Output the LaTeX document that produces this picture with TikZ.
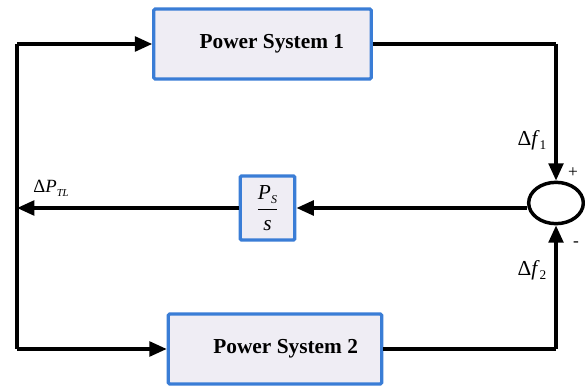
\documentclass[tikz,border=0pt]{standalone}
\usepackage{xcolor}
\usepackage{tikz}
\usepackage{fontspec}
\setmainfont{Liberation Serif}
\usetikzlibrary{arrows.meta,shapes.geometric}
\definecolor{boxblue}{RGB}{58,125,214}
\definecolor{boxfill}{RGB}{239,237,244}
\tikzset{
  sysbox/.style={draw=boxblue,fill=boxfill,line width=2.4pt,rounded corners=1pt,inner sep=0pt},
  flow/.style={line width=2.6pt,-{Triangle[length=13pt,width=11pt]}},
  wire/.style={line width=2.6pt}
}
\newcommand{\sublow}[1]{\raisebox{-0.45ex}{\fontsize{10}{12}\selectfont #1}}

\begin{document}
\begin{tikzpicture}[x=0.75pt,y=-0.75pt]
                  \useasboundingbox (0,0) rectangle (585,388);
                  \node[sysbox,minimum width=163pt,minimum height=52.5pt] (ps1) at (262.5,44) {\fontsize{16}{18}\selectfont\bfseries\hspace*{14pt}Power System 1};
                  \node[sysbox,minimum width=160pt,minimum height=52.5pt] (ps2) at (275,349) {\fontsize{16}{18}\selectfont\bfseries\hspace*{16pt}Power System 2};
                  \node[sysbox,minimum width=41pt,minimum height=48pt] (gain) at (267.5,208) {\fontsize{16}{18}\selectfont$\displaystyle\frac{\mbox{\itshape P\sublow{\fontsize{9}{10}\selectfont S}}\rule[-5pt]{0pt}{5pt}}{\rule{0pt}{14pt}\mbox{\itshape s}}$};
                  \node[draw,line width=2.6pt,ellipse,minimum width=41pt,minimum height=31pt,inner sep=0pt] (sum) at (556,203) {};
                  \coordinate (tl) at (17,44);
                  \coordinate (bl) at (17,349);
                  \coordinate (ml) at (17,208);
                  \coordinate (tr) at (556,44);
                  \coordinate (br) at (556,349);
                  \draw[wire] (bl) -- (tl);
                  \draw[flow] (tl) -- (ps1.west);
                  \draw[flow] (bl) -- (ps2.west);
                  \draw[wire] (ps1.east) -- (tr);
                  \draw[flow] (tr) -- (sum.north);
                  \draw[wire] (ps2.east) -- (br);
                  \draw[flow] (br) -- (sum.south);
                  \draw[flow] (sum.west |- gain) -- (gain.east);
                  \draw[flow] (gain.west) -- (ml);
                  \node (df1) at (532,140) {\fontsize{16}{18}\selectfont Δ\textit{f}\sublow{1}};
                  \node (df2) at (532,270) {\fontsize{16}{18}\selectfont Δ\textit{f}\sublow{2}};
                  \node (plus) at (573,173) {\fontsize{13}{15}\selectfont +};
                  \node (minus) at (576,244) {\fontsize{13}{15}\selectfont -};
                  \node (dptl) at (51,188) {\fontsize{14}{16}\selectfont Δ\textit{P}\sublow{\fontsize{8}{9}\selectfont\textit{TL}}};
              \end{tikzpicture}
\end{document}
